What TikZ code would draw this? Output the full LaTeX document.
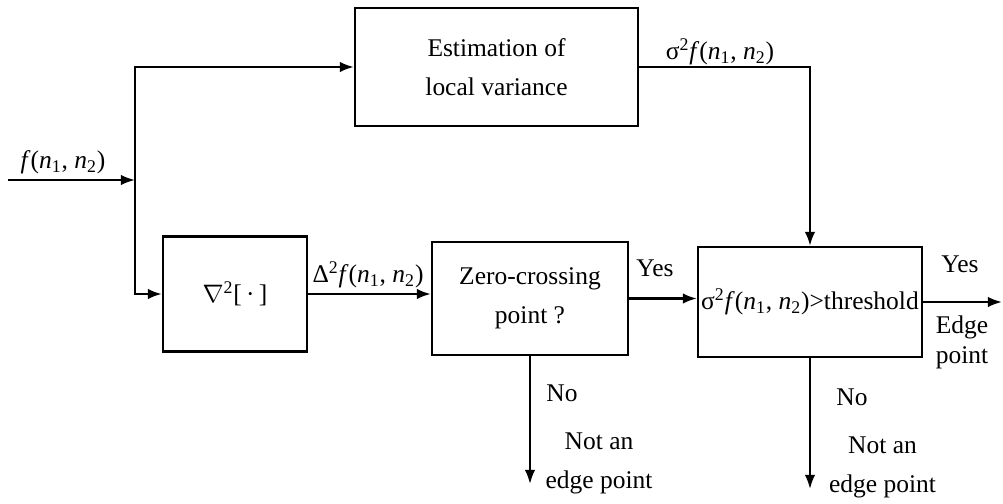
\documentclass[tikz,border=0pt]{standalone}
\usepackage{fontspec}
\setmainfont{Liberation Serif}
\usetikzlibrary{arrows.meta,positioning,calc}

% f(n_1, n_2) in text italics
\newcommand{\fnn}{\textit{f}(\textit{n}\textsubscript{1}, \textit{n}\textsubscript{2})}

\begin{document}
\begin{tikzpicture}[auto, >={Latex[length=8pt,width=6pt]}, line width=1.3pt, font=\fontsize{14.5}{22}\selectfont]
    \tikzset{block/.style={draw, rectangle, align=center, inner sep=1pt}}
    \useasboundingbox (0,0) rectangle (20.06,10.08);

    % processing blocks
    \node [block, minimum width=5.66cm, minimum height=2.36cm] (est) at (9.93,8.74) {Estimation of\\local variance};
    \node [block, minimum width=2.88cm, minimum height=2.30cm] (lap) at (4.70,4.20) {$\nabla$\textsuperscript{2}[\,·\,]};
    \node [block, minimum width=3.92cm, minimum height=2.26cm] (zc) at (10.60,4.11) {Zero-crossing\\point ?};
    \node [block, minimum width=4.48cm, minimum height=2.20cm, inner sep=0pt] (thr) at (16.20,4.04) {σ\textsuperscript{2}\fnn>threshold};

    % free ends
    \coordinate (in) at (0.16,6.48);
    \coordinate (split) at (2.70,6.48);
    \coordinate (out) at (20.04,4.04);
    \coordinate (zcno) at (10.60,0.40);
    \coordinate (thrno) at (16.20,0.30);

    \draw [->] (in) -- (split);
    \draw [->] (split) |- (est.west);
    \draw [->] (split) |- (lap.west);
    \draw [->] (lap.east) -- (lap.east -| zc.west);
    \draw [->] (zc.east) -- (zc.east -| thr.west);
    \draw [->] (est.east) -| (thr.north);
    \draw [->] (thr.east) -- (out);
    \draw [->] (zc.south) -- (zcno);
    \draw [->] (thr.south) -- (thrno);

    % labels
    \node (inlbl) at (1.26,6.84) {\fnn};
    \node (sigma) at (14.40,9.04) {σ\textsuperscript{2}\fnn};
    \node (delta) at (7.36,4.58) {Δ\textsuperscript{2}\fnn};
    \node (yes1) at (13.10,4.72) {Yes};
    \node (yes2) at (19.20,4.80) {Yes};
    \node [align=center, font=\fontsize{14.5}{17}\selectfont] (edge) at (19.24,3.24) {Edge\\point};
    \node (no1) at (11.24,2.22) {No};
    \node [align=center] (not1) at (11.98,0.81) {Not an\\edge point};
    \node (no2) at (17.04,2.14) {No};
    \node [align=center] (not2) at (17.65,0.73) {Not an\\edge point};
\end{tikzpicture}
\end{document}
